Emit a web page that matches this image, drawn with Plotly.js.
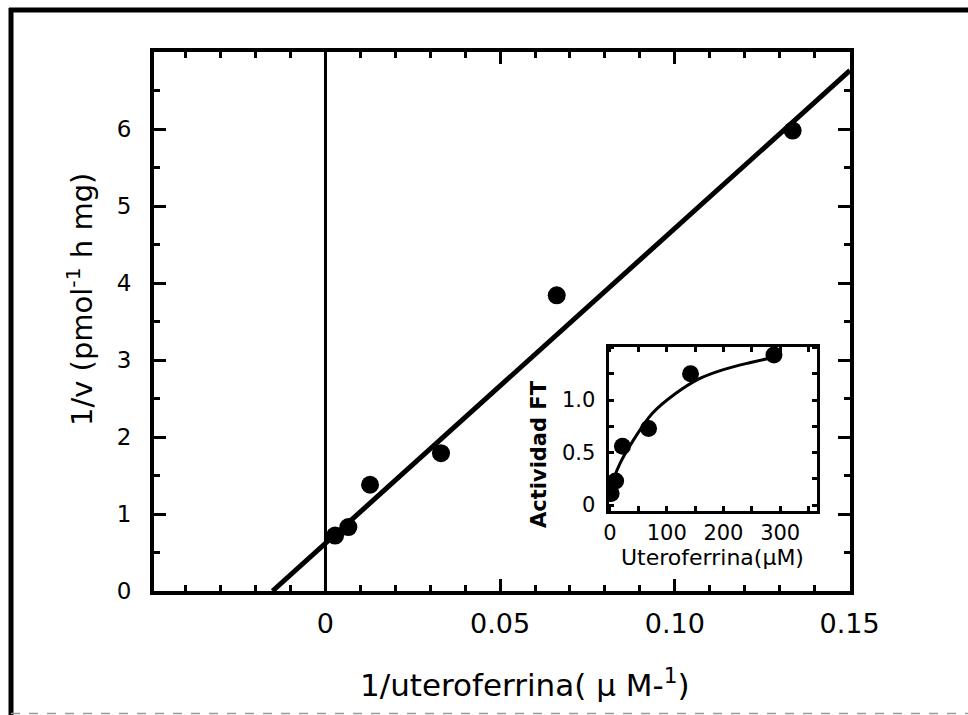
<!DOCTYPE html>
<html>
<head>
<meta charset="utf-8">
<script src="https://cdn.plot.ly/plotly-3.0.1.min.js"></script>
<style>html,body{margin:0;padding:0;background:#fff;}#chart{width:968px;height:715px;}</style>
</head>
<body>
<div id="chart"></div>
<script>
// Main Lineweaver-Burk data
const invS = [0.0028, 0.0066, 0.0128, 0.0331, 0.0662, 0.1337];
const invV = [0.72, 0.83, 1.38, 1.79, 3.84, 5.98];
// fitted straight line (endpoints)
const fitX = [-0.0151, 0.1501];
const fitY = [0, 6.76];
// Inset: activity vs uteroferrin
const insetX = [2, 10, 22, 68, 142, 289];
const insetY = [0.11, 0.23, 0.56, 0.73, 1.25, 1.43];
const curveX = [-2, 0, 8, 18, 38, 74, 115, 156, 200, 250, 300];
const curveY = [0.04, 0.07, 0.27, 0.40, 0.59, 0.87, 1.06, 1.20, 1.29, 1.36, 1.42];
// tick labels
const xTickVals = [0, 0.05, 0.10, 0.15];
const xTickText = ['0', '0.05', '0.10', '0.15'];
const yTickVals = [0, 1, 2, 3, 4, 5, 6];
const insetXTicks = [0, 100, 200, 300];
const insetYTicks = [0, 0.5, 1.0];
const insetYText = ['0', '0.5', '1.0'];
// titles
const xTitle = '1/uteroferrina( μ M-<sup>1</sup>)';
const yTitle = '1/v (pmol<sup>-1</sup> h mg)';
const insetXTitle = 'Uteroferrina(μM)';
const insetYTitle = '<b>Actividad FT</b>';

const L = 154, R = 850, T = 52, B = 591, W = 968, H = 715;
const px = v => (v - L) / (R - L);
const py = v => (B - v) / (B - T);
const FONT = 'DejaVu Sans, Liberation Sans, sans-serif';

const traces = [
  {x: fitX, y: fitY, mode: 'lines', line: {color: '#000', width: 5}, xaxis: 'x', yaxis: 'y', hoverinfo: 'skip'},
  {x: invS, y: invV, mode: 'markers', marker: {color: '#000', size: 18}, xaxis: 'x', yaxis: 'y'},
  {x: curveX, y: curveY, mode: 'lines', line: {color: '#000', width: 3, shape: 'spline'}, xaxis: 'x2', yaxis: 'y2', hoverinfo: 'skip'},
  {x: insetX, y: insetY, mode: 'markers', marker: {color: '#000', size: 17}, xaxis: 'x2', yaxis: 'y2'}
];

const layout = {
  width: W, height: H,
  margin: {l: L, r: W - R, t: T, b: H - B},
  paper_bgcolor: '#fff', plot_bgcolor: '#fff',
  showlegend: false,
  font: {family: FONT, color: '#000'},
  xaxis: {
    range: [-0.049, 0.1501], domain: [0, 1],
    showline: true, linewidth: 4, linecolor: '#000', mirror: 'ticks',
    showgrid: false, zeroline: true, zerolinewidth: 3, zerolinecolor: '#000',
    tickmode: 'array', tickvals: xTickVals, ticktext: xTickText,
    ticks: 'inside', ticklen: 12, tickwidth: 3, tickcolor: '#000',
    minor: {dtick: 0.01, tick0: 0, ticks: 'inside', ticklen: 6, tickwidth: 3, tickcolor: '#000', showgrid: false},
    tickfont: {size: 27, family: FONT},
    ticklabelstandoff: 6
  },
  yaxis: {
    range: [0, 7], domain: [0, 1],
    showline: true, linewidth: 4, linecolor: '#000', mirror: 'ticks',
    showgrid: false, zeroline: false,
    tickmode: 'array', tickvals: yTickVals,
    ticks: 'inside', ticklen: 12, tickwidth: 3, tickcolor: '#000',
    minor: {dtick: 0.5, tick0: 0, ticks: 'inside', ticklen: 6, tickwidth: 3, tickcolor: '#000', showgrid: false},
    tickfont: {size: 23, family: FONT},
    ticklabelstandoff: 14
  },
  xaxis2: {
    anchor: 'y2', domain: [px(608.5), px(816.5)], range: [-2.6, 364],
    showline: true, linewidth: 3, linecolor: '#000', mirror: 'ticks',
    showgrid: false, zeroline: false,
    tickmode: 'array', tickvals: insetXTicks,
    ticks: 'inside', ticklen: 5, tickwidth: 3, tickcolor: '#000',
    minor: {dtick: 50, tick0: 0, ticks: 'inside', ticklen: 5, tickwidth: 3, tickcolor: '#000', showgrid: false},
    tickfont: {size: 21, family: FONT},
    ticklabelstandoff: 1
  },
  yaxis2: {
    anchor: 'x2', domain: [py(510.5), py(346.5)], range: [-0.052, 1.51],
    showline: true, linewidth: 3, linecolor: '#000', mirror: 'ticks',
    showgrid: false, zeroline: false,
    tickmode: 'array', tickvals: insetYTicks, ticktext: insetYText,
    ticks: 'inside', ticklen: 5, tickwidth: 3, tickcolor: '#000',
    minor: {dtick: 0.25, tick0: 0, ticks: 'inside', ticklen: 5, tickwidth: 3, tickcolor: '#000', showgrid: false},
    tickfont: {size: 21, family: FONT},
    ticklabelstandoff: 6
  },
  annotations: [
    {xref: 'paper', yref: 'paper', x: px(525), y: py(683), text: xTitle, showarrow: false,
     xanchor: 'center', yanchor: 'middle', font: {size: 31, family: FONT}},
    {xref: 'paper', yref: 'paper', x: px(80), y: py(300), text: yTitle, showarrow: false, textangle: -90,
     xanchor: 'center', yanchor: 'middle', font: {size: 29, family: FONT}},
    {xref: 'paper', yref: 'paper', x: px(712), y: py(557), text: insetXTitle, showarrow: false,
     xanchor: 'center', yanchor: 'middle', font: {size: 22, family: FONT}},
    {xref: 'paper', yref: 'paper', x: px(539), y: py(454), text: insetYTitle, showarrow: false, textangle: -90,
     xanchor: 'center', yanchor: 'middle', font: {size: 21, family: FONT}}
  ],
  shapes: [
    {type: 'line', xref: 'paper', yref: 'paper', x0: px(11), x1: px(11), y0: py(8), y1: py(716), line: {color: '#000', width: 5}},
    {type: 'line', xref: 'paper', yref: 'paper', x0: px(9), x1: px(968), y0: py(10), y1: py(10), line: {color: '#000', width: 5}},
    {type: 'line', xref: 'paper', yref: 'paper', x0: px(11), x1: px(968), y0: py(713.5), y1: py(713.5), line: {color: '#999', width: 1.5, dash: 'dash'}}
  ]
};

Plotly.newPlot('chart', traces, layout, {staticPlot: true, displayModeBar: false});
</script>
</body>
</html>
